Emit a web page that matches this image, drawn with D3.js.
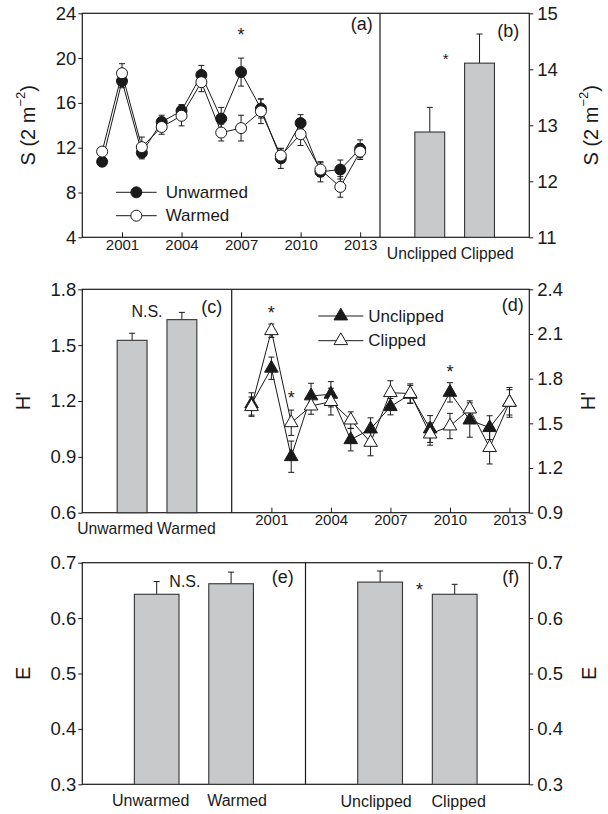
<!DOCTYPE html>
<html>
<head>
<meta charset="utf-8">
<script src="https://cdn.jsdelivr.net/npm/d3@7"></script>
<style>
body { margin: 0; background: #fff; }
text { font-family: "Liberation Sans", Arial, sans-serif; fill: #1a1a1a; }
</style>
</head>
<body>
<script>
// 数据
const years = [2000, 2001, 2002, 2003, 2004, 2005, 2006, 2007, 2008, 2009, 2010, 2011, 2012, 2013];
const yearTicks = [2001, 2004, 2007, 2010, 2013];

const sUnwarmed   = [10.75, 17.95, 11.55, 14.3, 15.3, 18.5, 14.6, 18.75, 15.5, 11.05, 14.2, 9.85, 10.05, 11.9];
const sUnwarmedSE = [0.4, 0.6, 0.55, 0.6, 0.55, 0.85, 1.0, 1.25, 0.85, 0.9, 0.75, 0.9, 0.85, 0.8];
const sWarmed     = [11.65, 18.65, 12.05, 13.85, 14.85, 17.85, 13.35, 13.75, 15.25, 11.3, 13.2, 10.05, 8.5, 11.65];
const sWarmedSE   = [0.3, 0.85, 0.9, 0.65, 0.9, 0.85, 0.75, 1.15, 1.1, 0.6, 1.0, 0.6, 0.92, 0.7];
const sTicks = [4, 8, 12, 16, 20, 24];

const clipCats = ["Unclipped", "Clipped"];
const warmCats = ["Unwarmed", "Warmed"];

const sClipMean = [12.88, 14.11];
const sClipSE   = [0.44, 0.52];
const sClipTicks = [11, 12, 13, 14, 15];

const hWarmMean = [1.526, 1.637];
const hWarmSE   = [0.038, 0.039];
const hWarmTicks = [0.6, 0.9, 1.2, 1.5, 1.8];

const hUnclipped   = [1.63, 1.87, 1.276, 1.684, 1.695, 1.39, 1.462, 1.612, 1.695, 1.462, 1.708, 1.522, 1.471, 1.641];
const hUnclippedSE = [0.075, 0.075, 0.105, 0.085, 0.085, 0.075, 0.075, 0.055, 0.06, 0.09, 0.065, 0.115, 0.08, 0.085];
const hClipped     = [1.612, 2.122, 1.504, 1.616, 1.646, 1.522, 1.372, 1.706, 1.70, 1.428, 1.482, 1.596, 1.337, 1.641];
const hClippedSE   = [0.065, 0.045, 0.085, 0.055, 0.09, 0.055, 0.09, 0.08, 0.065, 0.075, 0.085, 0.055, 0.11, 0.1];
const hClipTicks = [0.9, 1.2, 1.5, 1.8, 2.1, 2.4];

const eWarmMean = [0.643, 0.662];
const eWarmSE   = [0.023, 0.021];
const eClipMean = [0.665, 0.643];
const eClipSE   = [0.02, 0.018];
const eTicks = [0.3, 0.4, 0.5, 0.6, 0.7];

const L = 82.3, R = 529.3;
const ink = '#1a1a1a';

const svg = d3.select('body').append('svg')
    .attr('width', 608)
    .attr('height', 814);

//边框
function frame(top, bottom, split) {
    svg.append('rect')
        .attr('x', L).attr('y', top)
        .attr('width', R - L).attr('height', bottom - top)
        .attr('fill', 'none').attr('stroke', ink).attr('stroke-width', 1.2);
    svg.append('line')
        .attr('x1', split).attr('x2', split)
        .attr('y1', top).attr('y2', bottom)
        .attr('stroke', ink).attr('stroke-width', 1.2);
}

function yAxis(y, ticks, side, x, fmt) {
    const axis = (side === 'left' ? d3.axisLeft(y) : d3.axisRight(y))
        .tickValues(ticks)
        .tickSize(4)
        .tickPadding(side === 'left' ? 2 : 4)
        .tickFormat(fmt);
    const g = svg.append('g')
        .attr('transform', `translate(${x},0)`)
        .call(axis);
    g.select('.domain').remove();
    g.selectAll('line').attr('stroke', ink);
    g.selectAll('text').style('font-size', '18.5px').attr('fill', ink);
}

function yTitle(x, y, parts) {
    const t = svg.append('text')
        .attr('transform', `translate(${x},${y}) rotate(-90)`)
        .attr('text-anchor', 'middle')
        .attr('dominant-baseline', 'central')
        .style('font-size', '20px');
    parts.forEach(p => {
        const s = t.append('tspan').text(p.t);
        if (p.sup) s.attr('baseline-shift', 'super').style('font-size', '13px');
    });
}

function label(x, y, txt, size) {
    svg.append('text')
        .attr('x', x).attr('y', y)
        .attr('text-anchor', 'middle')
        .attr('dominant-baseline', 'central')
        .style('font-size', size + 'px')
        .text(txt);
}

//折线图面板
function linePanel(o) {
    const x = d3.scaleLinear().domain([1999, 2014]).range([o.x0, o.x1]);
    const y = d3.scaleLinear().domain(o.yDomain).range([o.bottom, o.top]);

    const xa = svg.append('g')
        .attr('transform', `translate(0,${o.bottom})`)
        .call(d3.axisBottom(x).tickValues(yearTicks).tickSize(-5).tickPadding(o.xPad).tickFormat(d3.format('d')));
    xa.select('.domain').remove();
    xa.selectAll('line').attr('stroke', ink);
    xa.selectAll('text').style('font-size', '15px').attr('fill', ink);

    const g = svg.append('g');
    o.series.forEach(s => {
        const pts = years.map((yr, i) => ({ yr, v: s.values[i], se: s.se[i] }));
        g.append('path')
            .datum(pts)
            .attr('d', d3.line().x(d => x(d.yr)).y(d => y(d.v)))
            .attr('fill', 'none')
            .attr('stroke', ink)
            .attr('stroke-width', 1);
        const eb = g.append('g').selectAll('g').data(pts).enter().append('g');
        eb.append('line')
            .attr('x1', d => x(d.yr)).attr('x2', d => x(d.yr))
            .attr('y1', d => y(d.v - d.se)).attr('y2', d => y(d.v + d.se))
            .attr('stroke', ink);
        [-1, 1].forEach(k => {
            eb.append('line')
                .attr('x1', d => x(d.yr) - 3).attr('x2', d => x(d.yr) + 3)
                .attr('y1', d => y(d.v + k * d.se)).attr('y2', d => y(d.v + k * d.se))
                .attr('stroke', ink);
        });
    });
    o.series.forEach(s => {
        g.append('g').selectAll('path')
            .data(years.map((yr, i) => ({ yr, v: s.values[i] })))
            .enter().append('path')
            .attr('transform', d => `translate(${x(d.yr)},${y(d.v)})`)
            .attr('d', d3.symbol().type(o.symbol).size(o.symbolSize))
            .attr('fill', s.fill)
            .attr('stroke', ink)
            .attr('stroke-width', 1);
    });

    //图例
    o.series.forEach((s, i) => {
        const ly = o.legend.y[i];
        svg.append('line')
            .attr('x1', o.legend.x0).attr('x2', o.legend.x1)
            .attr('y1', ly).attr('y2', ly)
            .attr('stroke', ink);
        svg.append('path')
            .attr('transform', `translate(${(o.legend.x0 + o.legend.x1) / 2},${ly})`)
            .attr('d', d3.symbol().type(o.symbol).size(o.symbolSize))
            .attr('fill', s.fill).attr('stroke', ink);
        svg.append('text')
            .attr('x', o.legend.tx).attr('y', ly)
            .attr('dominant-baseline', 'central')
            .style('font-size', '17px')
            .text(s.name);
    });

    o.stars.forEach(st => label(x(st.yr), y(st.v), '*', 18));
}

//柱状图面板
function barPanel(o) {
    const x = d3.scalePoint().domain(o.cats).range([o.x0, o.x1]).padding(1);
    const y = d3.scaleLinear().domain(o.yDomain).range([o.bottom, o.top]);
    const bw = (o.x1 - o.x0) * 0.2;
    const data = o.cats.map((c, i) => ({ c, v: o.means[i], se: o.se[i] }));

    const g = svg.append('g');
    g.selectAll('.err').data(data).enter().append('line')
        .attr('x1', d => x(d.c)).attr('x2', d => x(d.c))
        .attr('y1', d => y(d.v)).attr('y2', d => y(d.v + d.se))
        .attr('stroke', ink);
    g.selectAll('.cap').data(data).enter().append('line')
        .attr('x1', d => x(d.c) - 3).attr('x2', d => x(d.c) + 3)
        .attr('y1', d => y(d.v + d.se)).attr('y2', d => y(d.v + d.se))
        .attr('stroke', ink);
    g.selectAll('rect').data(data).enter().append('rect')
        .attr('x', d => x(d.c) - bw / 2)
        .attr('y', d => y(d.v))
        .attr('width', bw)
        .attr('height', d => y(o.yDomain[0]) - y(d.v))
        .attr('fill', '#c8c9cb')
        .attr('stroke', '#333')
        .attr('stroke-width', 1.1);

    //类别标签
    const mid = (x(o.cats[0]) + x(o.cats[1])) / 2;
    o.cats.forEach((c, i) => {
        const t = svg.append('text')
            .attr('y', o.labelY)
            .style('font-size', o.labelSize + 'px')
            .text(c);
        if (o.pair) {
            t.attr('x', mid + o.shift + (i === 0 ? -2 : 2))
                .attr('text-anchor', i === 0 ? 'end' : 'start');
        } else {
            t.attr('x', x(c) + (i === 0 ? -o.spread : o.spread))
                .attr('text-anchor', 'middle');
        }
    });

    if (o.note) label(mid + o.note.dx, y(o.note.v), o.note.t, o.note.size);
}

// (a) & (b)
frame(13.3, 237.3, 380);
linePanel({
    x0: L, x1: 380, top: 13.3, bottom: 237.3, yDomain: [4, 24], xPad: 2.5,
    symbol: d3.symbolCircle, symbolSize: 95,
    series: [
        { name: 'Unwarmed', values: sUnwarmed, se: sUnwarmedSE, fill: ink },
        { name: 'Warmed', values: sWarmed, se: sWarmedSE, fill: '#fff' }
    ],
    legend: { x0: 116, x1: 156.7, tx: 165.7, y: [192.3, 215.7] },
    stars: [{ yr: 2007, v: 22.1 }]
});
yAxis(d3.scaleLinear().domain([4, 24]).range([237.3, 13.3]), sTicks, 'left', L, d3.format('d'));
barPanel({
    cats: clipCats, means: sClipMean, se: sClipSE, x0: 380, x1: R, top: 13.3, bottom: 237.3,
    yDomain: [11, 15], labelY: 258.8, labelSize: 15.7, pair: true, shift: 4,
    note: { t: '*', v: 14.2, dx: -9, size: 15 }
});
yAxis(d3.scaleLinear().domain([11, 15]).range([237.3, 13.3]), sClipTicks, 'right', R, d3.format('d'));
yTitle(27.5, 125.3, [{ t: 'S (2 m' }, { t: '\u22122', sup: true }, { t: ')' }]);
yTitle(591, 125.3, [{ t: 'S (2 m' }, { t: '\u22122', sup: true }, { t: ')' }]);
label(361.7, 24, '(a)', 18);
label(508.3, 30.7, '(b)', 18);

// (c) & (d)
frame(289.3, 512.7, 231.7);
barPanel({
    cats: warmCats, means: hWarmMean, se: hWarmSE, x0: L, x1: 231.7, top: 289.3, bottom: 512.7,
    yDomain: [0.6, 1.8], labelY: 533.8, labelSize: 15.7, pair: true, shift: -2,
    note: { t: 'N.S.', v: 1.68, dx: -10, size: 16 }
});
yAxis(d3.scaleLinear().domain([0.6, 1.8]).range([512.7, 289.3]), hWarmTicks, 'left', L, d3.format('.1f'));
linePanel({
    x0: 231.7, x1: R, top: 289.3, bottom: 512.7, yDomain: [0.9, 2.4], xPad: 1.5,
    symbol: d3.symbolTriangle, symbolSize: 80,
    series: [
        { name: 'Unclipped', values: hUnclipped, se: hUnclippedSE, fill: ink },
        { name: 'Clipped', values: hClipped, se: hClippedSE, fill: '#fff' }
    ],
    legend: { x0: 318.3, x1: 363.3, tx: 368.3, y: [316, 340.7] },
    stars: [{ yr: 2001, v: 2.239 }, { yr: 2002, v: 1.668 }, { yr: 2010, v: 1.847 }]
});
yAxis(d3.scaleLinear().domain([0.9, 2.4]).range([512.7, 289.3]), hClipTicks, 'right', R, d3.format('.1f'));
yTitle(23.3, 401, [{ t: "H'" }]);
yTitle(588.3, 401, [{ t: "H'" }]);
label(211.7, 306.7, '(c)', 18);
label(512.7, 305, '(d)', 18);

// (e) & (f)
frame(562.7, 784.3, 305.5);
barPanel({
    cats: warmCats, means: eWarmMean, se: eWarmSE, x0: L, x1: 305.5, top: 562.7, bottom: 784.3,
    yDomain: [0.3, 0.7], labelY: 805.7, labelSize: 16, pair: false, spread: 6,
    note: { t: 'N.S.', v: 0.666, dx: -9, size: 16 }
});
yAxis(d3.scaleLinear().domain([0.3, 0.7]).range([784.3, 562.7]), eTicks, 'left', L, d3.format('.1f'));
barPanel({
    cats: clipCats, means: eClipMean, se: eClipSE, x0: 305.5, x1: R, top: 562.7, bottom: 784.3,
    yDomain: [0.3, 0.7], labelY: 806.5, labelSize: 16, pair: false, spread: 4,
    note: { t: '*', v: 0.651, dx: 2, size: 18 }
});
yAxis(d3.scaleLinear().domain([0.3, 0.7]).range([784.3, 562.7]), eTicks, 'right', R, d3.format('.1f'));
yTitle(23.3, 673.3, [{ t: 'E' }]);
yTitle(589, 673.3, [{ t: 'E' }]);
label(282.7, 576.7, '(e)', 18);
label(510.7, 576.7, '(f)', 18);
</script>
</body>
</html>
